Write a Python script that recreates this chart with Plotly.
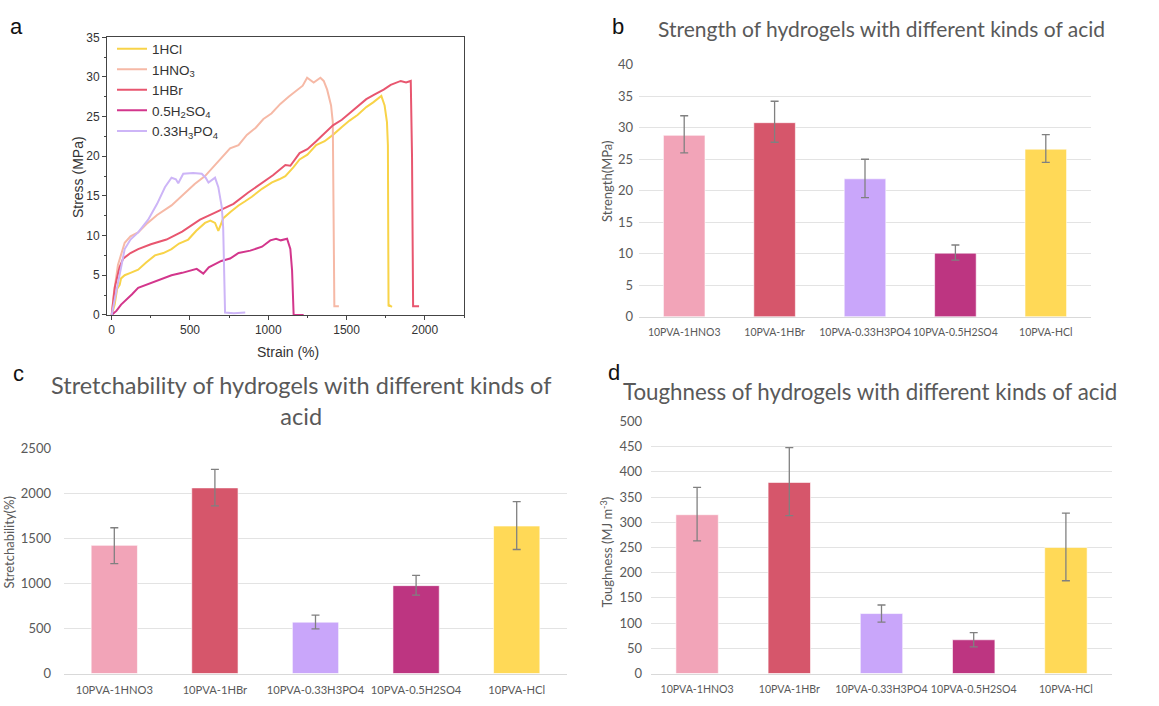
import plotly.graph_objects as go

W, H = 1159, 706

# ---------------- Panel a: stress-strain curves ----------------
hcl_strain = [0, 19, 35, 51, 60, 83, 120, 169, 220, 276, 330, 382, 430, 489, 540, 596, 630, 660, 681, 695, 713,
              760, 810, 850, 895, 960, 1024, 1070, 1109, 1160, 1200, 1250, 1306, 1360, 1413, 1470, 1519, 1570,
              1626, 1670, 1711, 1722, 1743, 1758, 1764, 1766, 1768, 1775, 1790]
hcl_stress = [0, 1.3, 3.3, 3.8, 4.6, 5.0, 5.3, 5.7, 6.6, 7.5, 7.8, 8.3, 9.0, 9.5, 10.6, 11.6, 11.9, 11.6, 10.6,
              11.4, 12.2, 13.0, 13.8, 14.3, 14.9, 15.9, 16.7, 17.1, 17.5, 18.6, 19.6, 20.2, 21.4, 21.9, 22.7,
              23.7, 24.5, 25.2, 26.2, 26.8, 27.4, 27.6, 26.4, 24.3, 21.4, 10.0, 1.1, 1.2, 1.0]

hno3_strain = [0, 13, 40, 83, 120, 169, 230, 290, 382, 468, 530, 596, 680, 756, 810, 863, 920, 969, 1020, 1077,
               1130, 1184, 1220, 1248, 1270, 1290, 1333, 1354, 1376, 1401, 1412, 1417, 1419, 1422, 1451]
hno3_stress = [0, 2.6, 6.3, 9.1, 9.9, 10.4, 11.6, 12.6, 13.8, 15.3, 16.5, 17.5, 19.4, 21.0, 21.4, 22.7, 23.6,
               24.7, 25.4, 26.6, 27.5, 28.4, 28.9, 29.9, 29.6, 29.3, 29.9, 29.5, 28.4, 26.4, 24.3, 15.0, 5.0,
               1.1, 1.1]

hbr_strain = [0, 20, 50, 73, 120, 169, 250, 350, 450, 564, 650, 778, 870, 950, 1030, 1109, 1141, 1200, 1250,
              1306, 1360, 1413, 1470, 1519, 1570, 1626, 1680, 1737, 1782, 1846, 1880, 1910, 1918, 1921, 1925, 1963]
hbr_stress = [0, 3.5, 6.0, 7.1, 7.8, 8.3, 8.9, 9.5, 10.5, 12.0, 12.8, 14.0, 15.4, 16.5, 17.6, 18.9, 18.8, 20.4,
              20.9, 21.9, 22.9, 23.9, 24.6, 25.4, 26.3, 27.2, 27.8, 28.4, 29.0, 29.5, 29.3, 29.5, 20.0, 5.0,
              1.1, 1.1]

h2so4_strain = [0, 30, 60, 83, 130, 169, 250, 320, 382, 450, 500, 543, 585, 620, 700, 756, 810, 885, 960, 1013,
                1050, 1080, 1120, 1141, 1152, 1158, 1162, 1190, 1226]
h2so4_stress = [0, 0.5, 1.3, 1.7, 2.6, 3.4, 4.0, 4.6, 5.0, 5.3, 5.6, 5.8, 5.2, 6.0, 6.8, 7.1, 7.8, 8.1, 8.6,
                9.4, 9.6, 9.4, 9.6, 8.3, 5.6, 2.5, 0, 0, 0]

h3po4_strain = [0, 20, 40, 83, 120, 169, 233, 290, 340, 382, 410, 425, 457, 520, 575, 600, 618, 640, 660, 681,
                703, 712, 718, 724, 780, 853]
h3po4_stress = [0, 2.0, 4.2, 8.3, 9.5, 10.4, 12.0, 14.0, 16.1, 17.3, 17.1, 16.6, 17.8, 17.9, 17.8, 17.3, 16.7,
                17.0, 17.3, 16.1, 13.6, 11.0, 7.0, 0.3, 0.2, 0.3]

curve_names = ["1HCl", "1HNO<sub>3</sub>", "1HBr", "0.5H<sub>2</sub>SO<sub>4</sub>", "0.33H<sub>3</sub>PO<sub>4</sub>"]
curve_colors = ["#F8D348", "#F6B9A6", "#E8566F", "#D3368C", "#CDB5F7"]

# ---------------- Panels b, c, d: bar charts ----------------
categories = ["10PVA-1HNO3", "10PVA-1HBr", "10PVA-0.33H3PO4", "10PVA-0.5H2SO4", "10PVA-HCl"]
bar_colors = ["#F2A4B8", "#D6566B", "#C9A6FA", "#BD3581", "#FFD957"]

strength = [28.8, 30.8, 21.9, 10.1, 26.6]
strength_err_up = [3.1, 3.4, 3.1, 1.3, 2.3]
strength_err_down = [2.8, 3.1, 3.0, 1.1, 2.1]

stretch = [1426, 2065, 572, 978, 1641]
stretch_err_up = [196, 207, 77, 113, 272]
stretch_err_down = [203, 200, 76, 105, 261]

toughness = [315, 379, 119, 67, 250]
tough_err_up = [54, 69, 17, 14, 68]
tough_err_down = [52, 66, 17, 14, 66]


def fx(px):
    return px / W


def fy(py):
    return 1 - py / H


fig = go.Figure()

for name, xs, ys, col in zip(curve_names,
                             [hcl_strain, hno3_strain, hbr_strain, h2so4_strain, h3po4_strain],
                             [hcl_stress, hno3_stress, hbr_stress, h2so4_stress, h3po4_stress],
                             curve_colors):
    fig.add_trace(go.Scatter(x=xs, y=ys, mode="lines", name=name,
                             line=dict(color=col, width=2), xaxis="x", yaxis="y"))

bar_sets = [
    ("x2", "y2", strength, strength_err_up, strength_err_down),
    ("x3", "y3", stretch, stretch_err_up, stretch_err_down),
    ("x4", "y4", toughness, tough_err_up, tough_err_down),
]
for xa, ya, vals, up, dn in bar_sets:
    fig.add_trace(go.Bar(
        x=categories, y=vals, marker=dict(color=bar_colors, line=dict(color="rgba(255,255,255,0.6)", width=1)),
        width=0.46, showlegend=False, xaxis=xa, yaxis=ya,
        error_y=dict(type="data", array=up, arrayminus=dn, color="#808080", thickness=1.3, width=4),
    ))

bar_font = "Lato, 'Open Sans', sans-serif"
gray = "#595959"

layout_axes = dict(
    xaxis=dict(domain=[fx(107), fx(464)], range=[-30, 2250], anchor="y",
               tickvals=[0, 500, 1000, 1500, 2000], ticks="outside", ticklen=4, tickcolor="#444",
               minor=dict(dtick=250, ticks="outside", ticklen=2, tickcolor="#444"),
               showline=True, mirror=True, linecolor="#444", linewidth=1,
               showgrid=False, zeroline=False,
               tickfont=dict(family="Liberation Sans, Arial", size=12, color="#333")),
    yaxis=dict(domain=[fy(314), fy(30)], range=[0, 35], anchor="x",
               dtick=5, ticks="outside", ticklen=4, tickcolor="#444",
               minor=dict(dtick=2.5, ticks="outside", ticklen=2, tickcolor="#444"),
               showline=True, mirror=True, linecolor="#444", linewidth=1,
               showgrid=False, zeroline=False,
               tickfont=dict(family="Liberation Sans, Arial", size=12, color="#333")),
)


def bar_axes(xdom, ydom, yrange, dtick, n, standoff, cat_size):
    xa = dict(domain=xdom, anchor="y%d" % n, type="category", range=[-0.5, 4.5],
              showgrid=False, zeroline=False, showline=True, linecolor="#D9D9D9", linewidth=1,
              ticks="", ticklabelstandoff=6, tickangle=0,
              tickfont=dict(family=bar_font, size=cat_size, color=gray))
    ya = dict(domain=ydom, anchor="x%d" % n, range=yrange, dtick=dtick,
              showgrid=True, gridcolor="#E3E3E3", gridwidth=1, zeroline=False, showline=False,
              ticks="", ticklabelstandoff=standoff,
              tickfont=dict(family=bar_font, size=13, color=gray))
    return xa, ya


xb, yb = bar_axes([fx(639), fx(1091)], [fy(316), fy(58)], [0, 40], 5, 2, 5, 10.5)
xc, yc = bar_axes([fx(64), fx(567)], [fy(681), fy(451)], [0, 2500], 500, 3, 12, 11.2)
xd, yd = bar_axes([fx(651), fx(1112)], [fy(681), fy(423)], [0, 500], 50, 4, 8, 10.6)
layout_axes.update(xaxis2=xb, yaxis2=yb, xaxis3=xc, yaxis3=yc, xaxis4=xd, yaxis4=yd)

annotations = []


def ann(text, x, y, size, color, family, angle=0, xanchor="center"):
    annotations.append(dict(text=text, x=fx(x), y=fy(y), xref="paper", yref="paper",
                            showarrow=False, xanchor=xanchor, yanchor="middle", textangle=angle,
                            font=dict(size=size, color=color, family=family)))


letter_font = "Liberation Sans, Arial"
ann("a", 16, 19, 22, "#111", letter_font)
ann("b", 618, 19, 22, "#111", letter_font)
ann("c", 18, 374, 22, "#111", letter_font)
ann("d", 614, 373, 22, "#111", letter_font)

ann("Strain (%)", 288, 352, 14, "#333", letter_font)
ann("Stress (MPa)", 78, 173, 14, "#333", letter_font, angle=-90)

ann("Strength of hydrogels with different kinds of acid", 882, 21, 21, gray, bar_font)
ann("Stretchability of hydrogels with different kinds of<br>acid", 301, 402, 23.5, gray, bar_font)
ann("Toughness of hydrogels with different kinds of acid", 870, 392, 22.3, gray, bar_font)

ann("Strength(MPa)", 607, 177, 13, gray, bar_font, angle=-90)
ann("Stretchability(%)", 9, 547, 13, gray, bar_font, angle=-90)
ann("Toughness (MJ m<sup>-3</sup>)", 606, 557, 13, gray, bar_font, angle=-90)

fig.update_layout(
    width=W, height=H, margin=dict(l=0, r=0, t=0, b=0),
    paper_bgcolor="white", plot_bgcolor="white",
    showlegend=True,
    legend=dict(x=fx(112), y=fy(26), xanchor="left", yanchor="top", bgcolor="rgba(0,0,0,0)",
                font=dict(family="Liberation Sans, Arial", size=13.5, color="#333"),
                tracegroupgap=0, itemwidth=30),
    annotations=annotations,
    bargap=0.5,
    **layout_axes,
)

fig.write_html("out.html")
